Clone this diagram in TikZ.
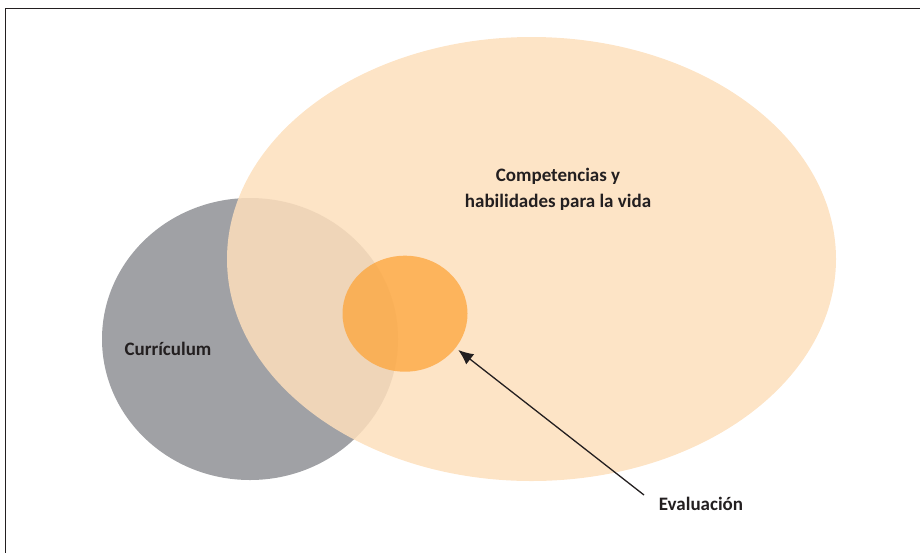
\documentclass[tikz,border=0pt]{standalone}
\usepackage{fontspec}
\setmainfont{Carlito}
\usetikzlibrary{arrows.meta, shapes.geometric, positioning}

\definecolor{grisCurr}{RGB}{160,161,165}
\definecolor{durazno}{RGB}{253,223,188}
\definecolor{naranja}{RGB}{253,164,56}
\definecolor{texto}{RGB}{35,31,32}

\begin{document}
\begin{tikzpicture}[x=1pt, y=-1pt,
                    mancha/.style={ellipse, inner sep=0pt},
                    etiqueta/.style={font=\bfseries\fontsize{19}{26}\selectfont, text=texto, align=center},
                    flecha/.style={-{Latex[length=15pt, width=13pt]}, line width=1.3pt, draw=texto}]
                    \useasboundingbox (0,0) rectangle (920,552);
                    \clip (0,0) rectangle (920,552);
                    \draw[line width=1.2pt, draw=texto] (5.5,8.5) rectangle (940,570);

                    % conjuntos
                    \node (Curr) [mancha, fill=grisCurr, minimum width=296, minimum height=282] at (250,339) {};
                    \node (Comp) [mancha, fill=durazno, fill opacity=0.85, minimum width=609, minimum height=444] at (531.5,259) {};
                    \node (Eval) [mancha, fill=naranja, fill opacity=0.75, minimum width=125, minimum height=116] at (405,313.7) {};

                    % textos
                    \node (CompTxt) [etiqueta] at (558,189) {Competencias y\\habilidades para la vida};
                    \node (CurrTxt) [etiqueta] at (168,349) {Currículum};
                    \node (EvalTxt) [etiqueta] at (701,504) {Evaluación};

                    \coordinate (cola) at (644,495);
                    \coordinate (punta) at (458.3,350);
                    \draw[flecha] (cola) -- (punta);
                \end{tikzpicture}
\end{document}
